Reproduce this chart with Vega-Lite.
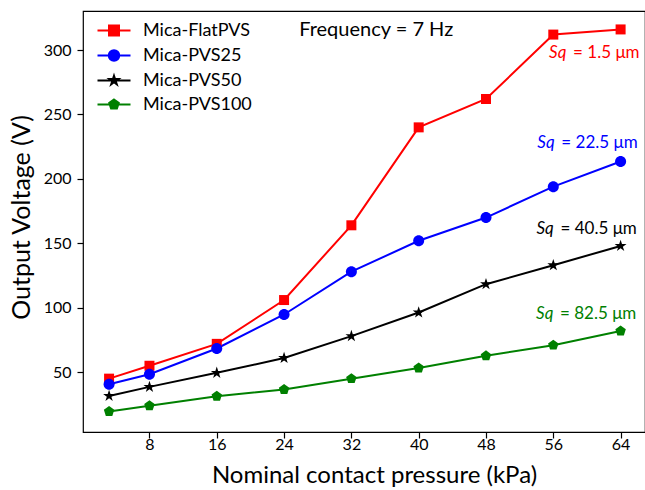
{
  "$schema": "https://vega.github.io/schema/vega-lite/v6.json",
  "width": 562,
  "height": 421,
  "autosize": {"type": "none"},
  "padding": {"left": 83, "top": 11, "right": 0, "bottom": 58},
  "background": "white",
  "config": {
    "view": {"stroke": "#000000", "strokeWidth": 1.2},
    "font": "Lato",
    "axis": {
      "domain": false,
      "grid": false,
      "tickColor": "#000000",
      "tickSize": 6,
      "tickWidth": 1.2,
      "labelFont": "Lato",
      "labelFontSize": 16,
      "labelColor": "#000000",
      "titleFont": "Lato",
      "titleFontSize": 25,
      "titleFontWeight": "normal",
      "titleColor": "#000000"
    }
  },
  "datasets": {
    "series": [
      {"series": "Mica-FlatPVS", "pressure": 3.2, "voltage": 45},
      {"series": "Mica-FlatPVS", "pressure": 8, "voltage": 55},
      {"series": "Mica-FlatPVS", "pressure": 16, "voltage": 72},
      {"series": "Mica-FlatPVS", "pressure": 24, "voltage": 106},
      {"series": "Mica-FlatPVS", "pressure": 32, "voltage": 164},
      {"series": "Mica-FlatPVS", "pressure": 40, "voltage": 240},
      {"series": "Mica-FlatPVS", "pressure": 48, "voltage": 262},
      {"series": "Mica-FlatPVS", "pressure": 56, "voltage": 312},
      {"series": "Mica-FlatPVS", "pressure": 64, "voltage": 316},
      {"series": "Mica-PVS25", "pressure": 3.2, "voltage": 40.7},
      {"series": "Mica-PVS25", "pressure": 8, "voltage": 48.4},
      {"series": "Mica-PVS25", "pressure": 16, "voltage": 68.4},
      {"series": "Mica-PVS25", "pressure": 24, "voltage": 94.8},
      {"series": "Mica-PVS25", "pressure": 32, "voltage": 128},
      {"series": "Mica-PVS25", "pressure": 40, "voltage": 152},
      {"series": "Mica-PVS25", "pressure": 48, "voltage": 170},
      {"series": "Mica-PVS25", "pressure": 56, "voltage": 194},
      {"series": "Mica-PVS25", "pressure": 64, "voltage": 213.5},
      {"series": "Mica-PVS50", "pressure": 3.2, "voltage": 31.6},
      {"series": "Mica-PVS50", "pressure": 8, "voltage": 38.6},
      {"series": "Mica-PVS50", "pressure": 16, "voltage": 49.5},
      {"series": "Mica-PVS50", "pressure": 24, "voltage": 61},
      {"series": "Mica-PVS50", "pressure": 32, "voltage": 78},
      {"series": "Mica-PVS50", "pressure": 40, "voltage": 96.3},
      {"series": "Mica-PVS50", "pressure": 48, "voltage": 118.3},
      {"series": "Mica-PVS50", "pressure": 56, "voltage": 133},
      {"series": "Mica-PVS50", "pressure": 64, "voltage": 148},
      {"series": "Mica-PVS100", "pressure": 3.2, "voltage": 19.5},
      {"series": "Mica-PVS100", "pressure": 8, "voltage": 24},
      {"series": "Mica-PVS100", "pressure": 16, "voltage": 31.4},
      {"series": "Mica-PVS100", "pressure": 24, "voltage": 36.6},
      {"series": "Mica-PVS100", "pressure": 32, "voltage": 45},
      {"series": "Mica-PVS100", "pressure": 40, "voltage": 53.3},
      {"series": "Mica-PVS100", "pressure": 48, "voltage": 62.7},
      {"series": "Mica-PVS100", "pressure": 56, "voltage": 71},
      {"series": "Mica-PVS100", "pressure": 64, "voltage": 82}
    ],
    "notes": [
      {"series": "Mica-FlatPVS", "pressure": 55.5, "voltage": 297.7, "sq": "Sq", "rest": "= 1.5 μm"},
      {"series": "Mica-PVS25", "pressure": 54.1, "voltage": 227.5, "sq": "Sq", "rest": "= 22.5 μm"},
      {"series": "Mica-PVS50", "pressure": 54.0, "voltage": 161.0, "sq": "Sq", "rest": "= 40.5 μm"},
      {"series": "Mica-PVS100", "pressure": 53.95, "voltage": 95.0, "sq": "Sq", "rest": "= 82.5 μm"}
    ],
    "freq": [
      {"pressure": 25.8, "voltage": 315.5, "label": "Frequency = 7 Hz"}
    ]
  },
  "encoding": {
    "x": {
      "field": "pressure",
      "type": "quantitative",
      "scale": {"domain": [0.1, 66.9], "nice": false, "zero": false},
      "axis": {"values": [8, 16, 24, 32, 40, 48, 56, 64], "title": "Nominal contact pressure (kPa)", "labelPadding": -2, "titlePadding": 11, "titleFontSize": 24, "titleX": 291}
    },
    "y": {
      "field": "voltage",
      "type": "quantitative",
      "scale": {"domain": [3.6, 330.3], "nice": false, "zero": false},
      "axis": {"values": [50, 100, 150, 200, 250, 300], "title": "Output Voltage (V)", "labelPadding": 6, "titlePadding": 9, "titleY": 206}
    }
  },
  "layer": [
    {
      "data": {"name": "series"},
      "mark": {"type": "line", "strokeWidth": 2},
      "encoding": {
        "color": {
          "field": "series",
          "type": "nominal",
          "scale": {
            "domain": ["Mica-FlatPVS", "Mica-PVS25", "Mica-PVS50", "Mica-PVS100"],
            "range": ["#ff0000", "#0000ff", "#000000", "#008000"]
          },
          "legend": {
            "title": null,
            "orient": "none",
            "legendX": 22,
            "legendY": 10.5,
            "padding": 0,
            "labelFont": "Lato",
            "labelFontSize": 18,
            "labelColor": "#000000",
            "labelOffset": 20,
            "rowPadding": 6,
            "symbolSize": 100,
            "symbolStrokeWidth": 2,
            "encode": {
              "symbols": {
                "update": {
                  "shape": {"signal": "datum.value === 'Mica-FlatPVS' ? 'M-3.3,0H3.3M-1,-1H1V1H-1Z' : datum.value === 'Mica-PVS25' ? 'M-3.3,0H3.3M-1.05,0A1.05,1.05,0,1,0,1.05,0A1.05,1.05,0,1,0,-1.05,0Z' : datum.value === 'Mica-PVS50' ? 'M-3.3,0H3.3M0,-0.95L0.213,-0.294L0.904,-0.294L0.345,0.112L0.558,0.769L0,0.363L-0.558,0.769L-0.345,0.112L-0.904,-0.294L-0.213,-0.294Z' : 'M-3.3,0H3.3M0,-1.0L0.951,-0.309L0.588,0.809L-0.588,0.809L-0.951,-0.309Z'"},
                  "fill": {"signal": "scale('color', datum.value)"},
                  "stroke": {"signal": "scale('color', datum.value)"},
                  "strokeWidth": {"value": 2},
                  "opacity": {"value": 1}
                }
              }
            }
          }
        },
        "detail": {"field": "series"}
      }
    },
    {
      "data": {"name": "series"},
      "transform": [{"filter": "datum.series === 'Mica-FlatPVS'"}],
      "mark": {"type": "point", "filled": true, "opacity": 1, "size": 100, "shape": "M-1,-1H1V1H-1Z"},
      "encoding": {"color": {"field": "series", "type": "nominal"}}
    },
    {
      "data": {"name": "series"},
      "transform": [{"filter": "datum.series === 'Mica-PVS25'"}],
      "mark": {"type": "point", "filled": true, "opacity": 1, "size": 100, "shape": "M-1.1,0A1.1,1.1,0,1,0,1.1,0A1.1,1.1,0,1,0,-1.1,0Z"},
      "encoding": {"color": {"field": "series", "type": "nominal"}}
    },
    {
      "data": {"name": "series"},
      "transform": [{"filter": "datum.series === 'Mica-PVS50'"}],
      "mark": {"type": "point", "filled": true, "opacity": 1, "size": 100, "shape": "M0,-1.25L0.281,-0.386L1.189,-0.386L0.454,0.148L0.735,1.011L0,0.478L-0.735,1.011L-0.454,0.148L-1.189,-0.386L-0.281,-0.386Z"},
      "encoding": {"color": {"field": "series", "type": "nominal"}}
    },
    {
      "data": {"name": "series"},
      "transform": [{"filter": "datum.series === 'Mica-PVS100'"}],
      "mark": {"type": "point", "filled": true, "opacity": 1, "size": 100, "shape": "M0,-1.1L1.046,-0.34L0.647,0.89L-0.647,0.89L-1.046,-0.34Z"},
      "encoding": {"color": {"field": "series", "type": "nominal"}}
    },
    {
      "data": {"name": "notes"},
      "mark": {"type": "text", "align": "left", "baseline": "middle", "font": "Lato", "fontSize": 17, "fontStyle": "italic"},
      "encoding": {
        "text": {"field": "sq"},
        "color": {"field": "series", "type": "nominal"}
      }
    },
    {
      "data": {"name": "notes"},
      "mark": {"type": "text", "align": "left", "baseline": "middle", "font": "Lato", "fontSize": 17, "dx": 24},
      "encoding": {
        "text": {"field": "rest"},
        "color": {"field": "series", "type": "nominal"}
      }
    },
    {
      "data": {"name": "freq"},
      "mark": {"type": "text", "align": "left", "baseline": "middle", "font": "Lato", "fontSize": 20, "color": "#000000"},
      "encoding": {
        "text": {"field": "label"}
      }
    }
  ]
}
